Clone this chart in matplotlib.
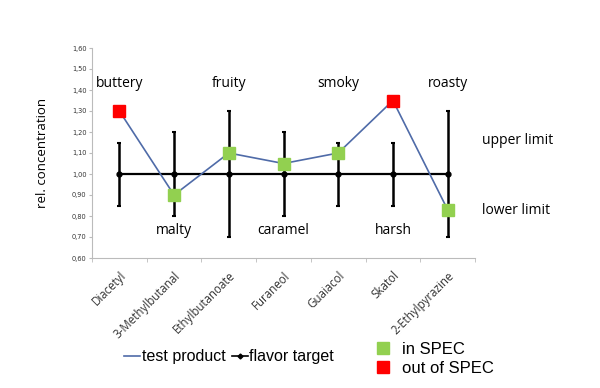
import matplotlib.pyplot as plt
from matplotlib.lines import Line2D

compounds = ['Diacetyl', '3-Methylbutanal', 'Ethylbutanoate', 'Furaneol',
             'Guaiacol', 'Skatol', '2-Ethylpyrazine']
test_product = [1.30, 0.90, 1.10, 1.05, 1.10, 1.35, 0.83]
in_spec = [False, True, True, True, True, False, True]
target = [1.00] * 7
lower = [0.85, 0.80, 0.70, 0.80, 0.85, 0.85, 0.70]
upper = [1.15, 1.20, 1.30, 1.20, 1.15, 1.15, 1.30]
flavors_top = ['buttery', 'fruity', 'smoky', 'roasty']
flavors_top_x = [0, 2, 4, 6]
flavors_bottom = ['malty', 'caramel', 'harsh']
flavors_bottom_x = [1, 3, 5]
yticks = [0.6, 0.7, 0.8, 0.9, 1.0, 1.1, 1.2, 1.3, 1.4, 1.5, 1.6]

green = '#92D050'
red = '#FF0000'
blue = '#4F6BA8'
lab_font = 'Open Sans'

fig = plt.figure(figsize=(6, 3.88), dpi=100)
ax = fig.add_axes([92 / 600, 1 - 258 / 388, 383 / 600, 210 / 388])

x = list(range(len(compounds)))
err_lo = [t - l for t, l in zip(target, lower)]
err_hi = [u - t for t, u in zip(target, upper)]
ax.errorbar(x, target, yerr=[err_lo, err_hi], color='black', lw=1.6,
            marker='o', ms=3.5, capsize=1.5, elinewidth=1.8, capthick=1.5, zorder=2)
ax.plot(x, test_product, color=blue, lw=1.2, zorder=3)
for xi, v, ok in zip(x, test_product, in_spec):
    ax.plot(xi, v, marker='s', ms=8.5, color=green if ok else red, zorder=4, lw=0)

ax.set_xlim(-0.5, 6.5)
ax.set_ylim(0.6, 1.6)
ax.set_yticks(yticks)
ax.set_yticklabels([f'{v:.2f}'.replace('.', ',') for v in yticks], fontsize=4.8,
                   color='#333333')
ax.set_xticks(x)
ax.set_xticklabels(compounds, rotation=45, ha='right', rotation_mode='anchor',
                   fontsize=8.3, color='#333333', family=lab_font)
ax.set_xticks([i + 0.5 for i in range(-1, 7)], minor=True)
ax.tick_params(axis='x', which='major', length=0, pad=8)
ax.tick_params(axis='x', which='minor', length=3, color='#bbbbbb')
ax.tick_params(axis='y', length=2, color='#bbbbbb', pad=2)
for s in ['top', 'right']:
    ax.spines[s].set_visible(False)
for s in ['left', 'bottom']:
    ax.spines[s].set_color('#bbbbbb')

ax.set_ylabel('rel. concentration', fontsize=9.5, family=lab_font, labelpad=16)

for name, xi in zip(flavors_top, flavors_top_x):
    ax.text(xi, 1.43, name, ha='center', va='center', fontsize=10, family=lab_font)
for name, xi in zip(flavors_bottom, flavors_bottom_x):
    ax.text(xi, 0.73, name, ha='center', va='center', fontsize=10, family=lab_font)
ax.text(6.62, 1.16, 'upper limit', ha='left', va='center', fontsize=10,
        family=lab_font, clip_on=False)
ax.text(6.62, 0.825, 'lower limit', ha='left', va='center', fontsize=10,
        family=lab_font, clip_on=False)

handles = [Line2D([], [], color=blue, lw=1.2),
           Line2D([], [], color='black', lw=1.2, marker='D', ms=2.5)]
fig.legend(handles, ['test product', 'flavor target'], loc='center',
           bbox_to_anchor=(229 / 600, 1 - 357 / 388), ncol=2, frameon=False,
           handlelength=1.0, handletextpad=0.1, columnspacing=0.4,
           prop={'family': 'Liberation Sans', 'size': 11.5})
handles2 = [Line2D([], [], color=green, marker='s', ms=8, lw=0),
            Line2D([], [], color=red, marker='s', ms=8, lw=0)]
fig.legend(handles2, ['in SPEC', 'out of SPEC'], loc='upper left',
           bbox_to_anchor=(360 / 600, 1 - 327 / 388), frameon=False,
           handlelength=1.0, handletextpad=0.6, labelspacing=0.25,
           prop={'family': 'Liberation Sans', 'size': 12})

fig.savefig('out.png', dpi=100)
